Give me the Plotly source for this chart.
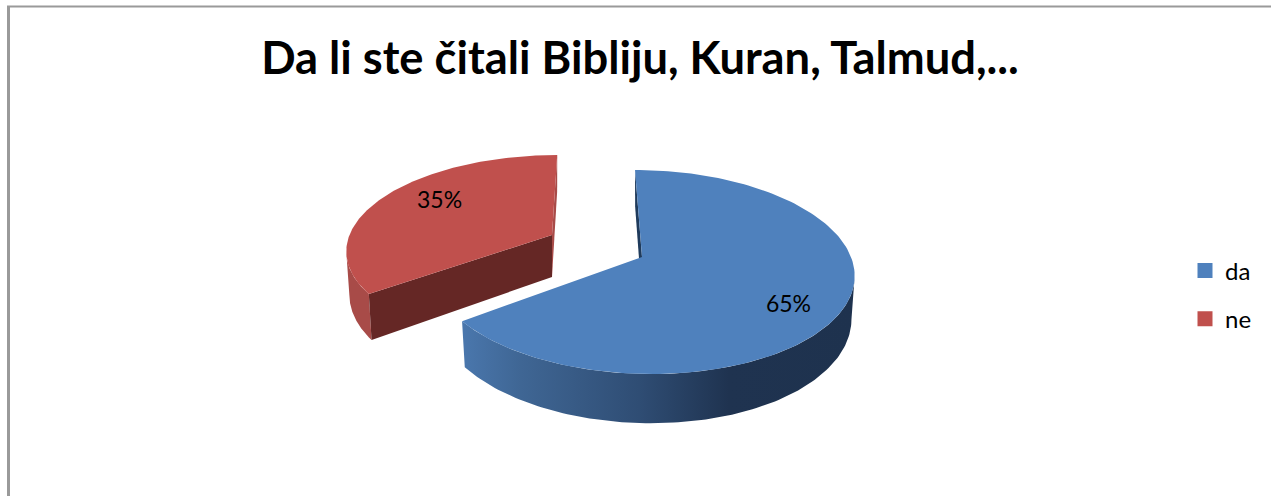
import numpy as np
import plotly.graph_objects as go

# --- data ---
categories = ["da", "ne"]
values = [65, 35]
title_text = "Da li ste čitali Bibliju, Kuran, Talmud,..."

# --- style / projection of the tilted pie (pixel space) ---
W, H = 1271, 496
K = 0.147          # perspective strength
RIM = 0.985        # lower rim shrink
geom = {
    "da": dict(ax=642, ay=257, R=209, S=99.8, shear=-8, D=42, lab_r=0.72, lab_dy=14),
    "ne": dict(ax=552, ay=235, R=202.5, S=91.8, shear=6, D=42, lab_r=0.675, lab_dy=-6),
}
colors = {"da": "#4f81bd", "ne": "#c0504d"}
# cut faces: (angle index 0 = slice start, 1 = slice end) -> colour; None = hidden
cut_faces = {"da": ("#1f3b5c", None), "ne": ("#652725", "#a84b48")}


def rim(g, theta, lower=False):
    u, v = np.sin(theta), np.cos(theta)
    w = 1 + K * v
    dx = (g["R"] * u + g["shear"] * v) / w
    dy = -g["S"] * v / w
    if lower:
        return g["ax"] + RIM * dx, g["ay"] + dy + g["D"] / w
    return g["ax"] + dx, g["ay"] + dy


def poly(xs, ys, color, **kw):
    return go.Scatter(x=list(xs), y=list(ys), mode="lines", fill="toself",
                      fillcolor=color, line=dict(width=0, color=color),
                      hoverinfo="skip", showlegend=False, **kw)


fig = go.Figure()
total = sum(values)
shares = np.array(values) / total
edges = np.concatenate([[0], np.cumsum(shares)]) * 2 * np.pi
circle = np.linspace(0, 2 * np.pi, 1441)

# draw red ("ne") first, then blue in front
for idx in [1, 0]:
    name = categories[idx]
    g = geom[name]
    a0, a1 = edges[idx], edges[idx + 1]
    th = np.linspace(a0, a1, 160)

    # outer wall: only the part between the two silhouette tangents
    cx, _ = rim(g, circle)
    right_tan, left_tan = circle[np.argmax(cx)], circle[np.argmin(cx)]
    wall_th = np.linspace(max(a0, right_tan), min(a1, left_tan), 120)
    tx, ty = rim(g, wall_th)
    bx, by = rim(g, wall_th, lower=True)
    wx = np.concatenate([tx, bx[::-1]])
    wy = np.concatenate([ty, by[::-1]])
    if name == "da":
        fig.add_trace(poly(wx, wy, colors[name], fillgradient=dict(
            type="horizontal",
            colorscale=[[0, "#4a77ad"], [0.15, "#3f6694"], [0.45, "#2f4d74"],
                        [0.68, "#1f3350"], [1, "#1e324e"]])))
    else:
        fig.add_trace(poly(wx, wy, "#a84b48"))

    # flat cut faces at the two ends of the slice
    for ang, col in zip((a0, a1), cut_faces[name]):
        if col is None:
            continue
        x1, y1 = rim(g, ang)
        x2, y2 = rim(g, ang, lower=True)
        fig.add_trace(poly([x1, g["ax"], g["ax"], x2, x1],
                           [y1, g["ay"], g["ay"] + g["D"], y2, y1], col))

    # top face
    tx, ty = rim(g, th)
    fig.add_trace(poly(np.concatenate([[g["ax"]], tx, [g["ax"]]]),
                       np.concatenate([[g["ay"]], ty, [g["ay"]]]), colors[name]))

    # percentage label
    mid = (a0 + a1) / 2
    mx, my = rim(g, mid)
    fig.add_trace(go.Scatter(
        x=[g["ax"] + g["lab_r"] * (mx - g["ax"])],
        y=[g["ay"] + g["lab_r"] * (my - g["ay"]) + g["lab_dy"]],
        mode="text", text=[f"{values[idx]}%"], textposition="middle center",
        textfont=dict(family="Lato", size=23, color="#000000"),
        hoverinfo="skip", showlegend=False))

# legend entries
for name in categories:
    fig.add_trace(go.Scatter(x=[None], y=[None], mode="markers", name=name,
                             legendgroup=name,
                             marker=dict(symbol="square", size=15, color=colors[name])))

fig.update_layout(
    width=W, height=H, margin=dict(l=0, r=0, t=0, b=0),
    paper_bgcolor="#ffffff", plot_bgcolor="#ffffff",
    xaxis=dict(range=[0, W], visible=False, fixedrange=True),
    yaxis=dict(range=[H, 0], visible=False, fixedrange=True),
    font=dict(family="Lato", color="#000000"),
    title=dict(text=f"<b>{title_text}</b>", x=640 / W, xanchor="center",
               y=1 - 58 / H, yanchor="middle",
               font=dict(family="Lato", size=45.3, color="#000000")),
    legend=dict(x=1185 / W, xanchor="left", y=1 - 295 / H, yanchor="middle",
                font=dict(family="Lato", size=24, color="#000000"),
                tracegroupgap=14, bgcolor="rgba(0,0,0,0)", borderwidth=0),
    shapes=[
        dict(type="line", xref="x", yref="y", x0=8.5, x1=8.5, y0=6, y1=H,
             line=dict(color="#9a9a9a", width=3)),
        dict(type="line", xref="x", yref="y", x0=7, x1=W, y0=6.5, y1=6.5,
             line=dict(color="#9a9a9a", width=2)),
    ],
)

fig.write_html("out.html", config={"displayModeBar": False},
               post_script="document.body.style.margin='0';")
